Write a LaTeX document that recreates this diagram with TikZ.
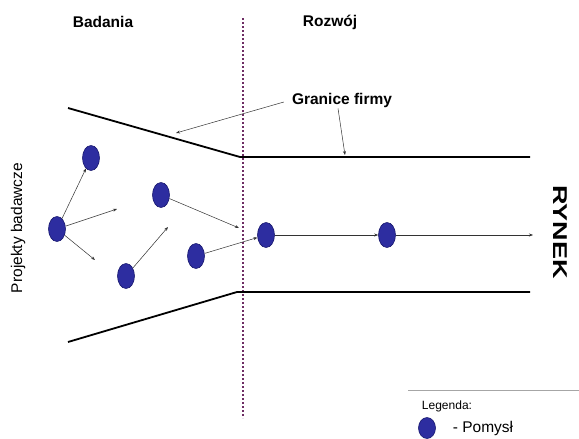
\documentclass[tikz,border=0pt]{standalone}
\usepackage{fontspec}
\setmainfont{Liberation Sans}
\usepackage{xcolor}
\usepackage{tikz}
\usetikzlibrary{positioning, arrows.meta, shapes.geometric, calc}

\definecolor{pomyslblue}{RGB}{45,45,160}
\definecolor{pomysldark}{RGB}{25,25,110}
\definecolor{granicapurple}{RGB}{110,45,100}

\begin{document}
\begin{tikzpicture}[
  x=1pt, y=1pt,
  pomysl/.style={ellipse, draw=pomysldark, fill=pomyslblue, line width=0.6pt,
                 minimum width=17pt, minimum height=25pt, inner sep=0pt},
  flow/.style={-{Stealth[length=4pt, width=3pt]}, line width=0.5pt, black!80},
  granica/.style={line width=1.8pt, black},
  head/.style={font=\fontsize{15.5}{18}\selectfont\bfseries},
  caplab/.style={font=\fontsize{15.5}{18}\selectfont}
]
\useasboundingbox (0,0) rectangle (579,-439);

% naglowki
\node[head] (bad) at (103,-22) {Badania};
\node[head] (roz) at (330,-22) {Rozwój};

% linia podzialu
\coordinate (div1) at (243,-18);
\coordinate (div2) at (243,-418);
\draw[granicapurple, line width=1.8pt, dash pattern=on 1.8pt off 2.2pt] (div1) -- (div2);

% granice firmy
\coordinate (u1) at (68,-108);
\coordinate (u2) at (240,-157);
\coordinate (u3) at (530,-157);
\coordinate (l1) at (68,-342);
\coordinate (l2) at (237,-292);
\coordinate (l3) at (530,-292);
\draw[granica] (u1) -- (u2) -- (u3);
\draw[granica] (l1) -- (l2) -- (l3);

\node[head, inner sep=2pt] (gf) at (342,-100) {Granice firmy};
\coordinate (g1) at (176,-133);
\coordinate (g2) at (345,-155);
\draw[flow] ($(gf.west)+(-6,-2)$) -- (g1);
\draw[flow] ($(gf.south)+(-4,1)$) -- (g2);

% pomysly
\node[pomysl] (a) at (57,-229) {};
\node[pomysl] (b) at (91,-158) {};
\node[pomysl] (c) at (161,-195) {};
\node[pomysl] (d) at (126,-276) {};
\node[pomysl] (e) at (196,-256) {};
\node[pomysl] (f) at (266,-235) {};
\node[pomysl] (g) at (387,-235) {};

\coordinate (a2) at (117,-209);
\coordinate (a3) at (95,-260);
\coordinate (d2) at (168,-227);
\coordinate (c2) at (239,-228);
\coordinate (rynek) at (533,-235);

\draw[flow] (a) -- (b);
\draw[flow] (a) -- (a2);
\draw[flow] (a) -- (a3);
\draw[flow] (d) -- (d2);
\draw[flow] (c) -- (c2);
\draw[flow] (e) -- (f);
\draw[flow] (f) -- (g);
\draw[flow] (g) -- (rynek);

% opisy
\node[caplab, rotate=90] (proj) at (18,-228) {Projekty badawcze};
\node[font=\fontsize{20}{22}\selectfont\bfseries, rotate=-90] (ryn) at (560,-232)
  {\scalebox{1.35}[1]{RYNEK}};

% legenda
\coordinate (leg1) at (408,-390);
\coordinate (leg2) at (579,-390);
\draw[black!35, line width=0.6pt] (leg1) -- (leg2);
\node[font=\fontsize{12}{14}\selectfont] (legt) at (447,-406) {Legenda:};
\node[pomysl, minimum height=21pt] (legp) at (427,-428) {};
\node[caplab] (legd) at (483,-428) {- Pomysł};
\end{tikzpicture}
\end{document}
